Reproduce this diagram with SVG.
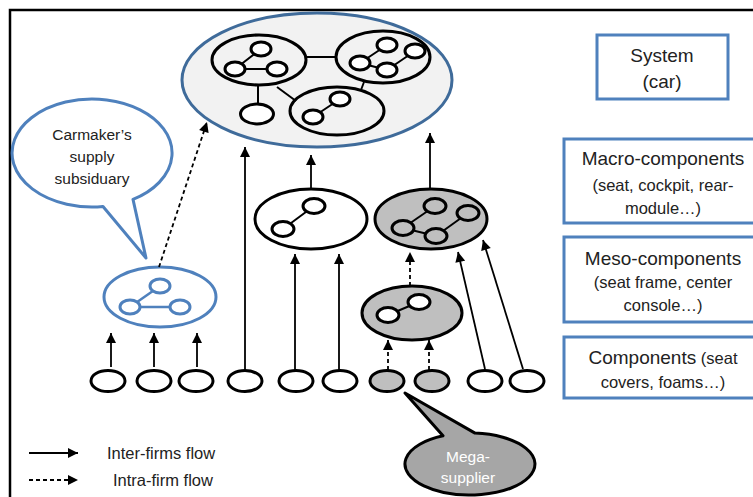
<svg xmlns="http://www.w3.org/2000/svg" width="753" height="497" viewBox="0 0 753 497">
<defs>
<marker id="ah" viewBox="0 0 10 10" refX="10" refY="5" markerWidth="11" markerHeight="10" markerUnits="userSpaceOnUse" orient="auto">
<path d="M0,0 L10,5 L0,10 z" fill="#000"/>
</marker>
</defs>
<style>
.frame{stroke:#000;stroke-width:2.5;fill:none}
.big{fill:#f2f2f2;stroke:#3f6b9a;stroke-width:3}
.sub{fill:none;stroke:#000;stroke-width:3}
.subw{fill:#fff;stroke:#000;stroke-width:3}
.subg{fill:#bfbfbf;stroke:#000;stroke-width:3}
.n{fill:#fff;stroke:#000;stroke-width:3}
.ng{fill:#bfbfbf;stroke:#000;stroke-width:3}
.l{stroke:#000;stroke-width:2;fill:none}
.bl{stroke:#4f81bd;stroke-width:3;fill:#fff}
.bll{stroke:#4f81bd;stroke-width:2.5;fill:none}
.box{fill:#fff;stroke:#4f81bd;stroke-width:3}
.a{stroke:#000;stroke-width:1.8;fill:none;marker-end:url(#ah)}
.d{stroke:#000;stroke-width:1.8;fill:none;stroke-dasharray:4,3;marker-end:url(#ah)}
text{font-family:"Liberation Sans",Arial,sans-serif;fill:#222;text-anchor:middle}
.h{font-size:19px}
.s{font-size:16.5px}
.c{font-size:15.5px}
.w{fill:#fff;font-size:15.5px}
.lg{font-size:16.5px;text-anchor:start}
</style>
<rect width="753" height="497" fill="#fff"/>
<path class="frame" d="M10,497 V10 H753"/>

<g id="system-node">
<ellipse class="big" cx="317" cy="80" rx="135" ry="67"/>
<line class="l" x1="306" y1="57" x2="336" y2="57"/>
<line class="l" x1="258" y1="85" x2="258" y2="104"/>
<line class="l" x1="277" y1="87" x2="296" y2="101"/>
<line class="l" x1="364" y1="82" x2="361" y2="90"/>
<ellipse class="sub" cx="259" cy="60" rx="47" ry="25"/>
<line class="l" x1="261" y1="49" x2="235" y2="69"/>
<line class="l" x1="235" y1="69" x2="277" y2="69"/>
<ellipse class="n" cx="261" cy="49" rx="10" ry="7"/>
<ellipse class="n" cx="235" cy="69" rx="10" ry="7"/>
<ellipse class="n" cx="277" cy="69" rx="10" ry="7"/>
<ellipse class="sub" cx="383" cy="57" rx="47" ry="26"/>
<line class="l" x1="387" y1="45" x2="360" y2="63"/>
<line class="l" x1="360" y1="63" x2="387" y2="70"/>
<line class="l" x1="387" y1="70" x2="415" y2="51"/>
<ellipse class="n" cx="387" cy="45" rx="10" ry="7"/>
<ellipse class="n" cx="415" cy="51" rx="10" ry="7"/>
<ellipse class="n" cx="360" cy="63" rx="10" ry="7"/>
<ellipse class="n" cx="387" cy="70" rx="10" ry="7"/>
<ellipse class="sub" cx="337" cy="111" rx="47" ry="24"/>
<line class="l" x1="340" y1="99" x2="313" y2="117"/>
<ellipse class="n" cx="340" cy="99" rx="10" ry="7"/>
<ellipse class="n" cx="313" cy="117" rx="10" ry="7"/>
<ellipse class="n" cx="257" cy="114" rx="16.5" ry="10"/>
</g>

<g id="carmaker-callout">
<path class="bl" d="M103,206.5 A80,54 0 1 1 133,199.4 L146,258 Z" stroke-linejoin="round"/>
<text class="c" x="92" y="140">Carmaker’s</text>
<text class="c" x="92" y="162">supply</text>
<text class="c" x="92" y="184">subsiduary</text>
</g>

<g id="subsidiary-node">
<ellipse class="bl" cx="160" cy="297" rx="56" ry="30"/>
<line class="bll" x1="160" y1="286" x2="130" y2="307"/>
<line class="bll" x1="130" y1="307" x2="180" y2="307"/>
<ellipse class="bl" cx="160" cy="286" rx="10" ry="7"/>
<ellipse class="bl" cx="130" cy="307" rx="10" ry="7"/>
<ellipse class="bl" cx="180" cy="307" rx="10" ry="7"/>
</g>

<g id="macro-white">
<ellipse class="subw" cx="311" cy="219" rx="56" ry="30"/>
<line class="l" x1="314" y1="206" x2="283" y2="229"/>
<ellipse class="n" cx="314" cy="206" rx="11" ry="7.5"/>
<ellipse class="n" cx="283" cy="229" rx="11" ry="7.5"/>
</g>

<g id="macro-grey">
<ellipse class="subg" cx="431" cy="219" rx="56" ry="30"/>
<line class="l" x1="435" y1="206" x2="403" y2="228"/>
<line class="l" x1="403" y1="228" x2="436" y2="236"/>
<line class="l" x1="436" y1="236" x2="468" y2="213"/>
<ellipse class="ng" cx="435" cy="206" rx="11" ry="7.5"/>
<ellipse class="ng" cx="468" cy="213" rx="11" ry="7.5"/>
<ellipse class="ng" cx="403" cy="228" rx="11" ry="7.5"/>
<ellipse class="ng" cx="436" cy="236" rx="11" ry="7.5"/>
</g>

<g id="meso-grey">
<ellipse class="subg" cx="412" cy="313" rx="50" ry="27"/>
<line class="l" x1="419" y1="302" x2="388" y2="315"/>
<ellipse class="n" cx="419" cy="302" rx="11" ry="7.5"/>
<ellipse class="n" cx="388" cy="315" rx="11" ry="7.5"/>
</g>

<g id="components">
<ellipse class="n" cx="108" cy="381" rx="17" ry="10.5"/>
<ellipse class="n" cx="154" cy="381" rx="17" ry="10.5"/>
<ellipse class="n" cx="196" cy="381" rx="17" ry="10.5"/>
<ellipse class="n" cx="245" cy="381" rx="17" ry="10.5"/>
<ellipse class="n" cx="296" cy="381" rx="17" ry="10.5"/>
<ellipse class="n" cx="340" cy="381" rx="17" ry="10.5"/>
<ellipse class="ng" cx="387" cy="381" rx="17" ry="10.5"/>
<ellipse class="ng" cx="432" cy="381" rx="17" ry="10.5"/>
<ellipse class="n" cx="485" cy="381" rx="17" ry="10.5"/>
<ellipse class="n" cx="527" cy="381" rx="17" ry="10.5"/>
</g>

<g id="mega-supplier-callout">
<path d="M443,435.8 A65,31 0 1 0 475,433.1 L405,393 Z" fill="#a6a6a6" stroke="#000" stroke-width="3" stroke-linejoin="round"/>
<text class="w" x="468" y="462">Mega-</text>
<text class="w" x="468" y="483">supplier</text>
</g>

<g id="connectors">
<line class="d" x1="159" y1="267" x2="207" y2="122"/>
<line class="a" x1="111" y1="367" x2="111" y2="333"/>
<line class="a" x1="154" y1="367" x2="154" y2="333"/>
<line class="a" x1="197" y1="367" x2="197" y2="333"/>
<line class="a" x1="245" y1="370" x2="245" y2="147"/>
<line class="a" x1="295" y1="370" x2="295" y2="254"/>
<line class="a" x1="339" y1="370" x2="339" y2="254"/>
<line class="a" x1="311" y1="189" x2="311" y2="155"/>
<line class="a" x1="430" y1="189" x2="430" y2="133"/>
<line class="d" x1="410" y1="286" x2="410" y2="252"/>
<line class="d" x1="388" y1="370" x2="388" y2="340"/>
<line class="d" x1="429" y1="370" x2="429" y2="340"/>
<line class="a" x1="485" y1="369" x2="458" y2="252"/>
<line class="a" x1="523" y1="369" x2="483" y2="240"/>
</g>

<g id="level-system">
<rect class="box" x="597" y="35" width="131" height="64"/>
<text class="h" x="662" y="62">System</text>
<text class="h" x="662" y="88">(car)</text>
</g>
<g id="level-macro">
<rect class="box" x="564" y="139" width="200" height="84"/>
<text class="h" x="663" y="165">Macro-components</text>
<text class="s" x="663" y="191">(seat, cockpit, rear-</text>
<text class="s" x="663" y="214">module…)</text>
</g>
<g id="level-meso">
<rect class="box" x="564" y="237" width="200" height="85"/>
<text class="h" x="663" y="265">Meso-components</text>
<text class="s" x="663" y="288">(seat frame, center</text>
<text class="s" x="663" y="311">console…)</text>
</g>
<g id="level-components">
<rect class="box" x="564" y="337" width="200" height="61"/>
<text x="663" y="364"><tspan font-size="19px">Components</tspan><tspan font-size="16.5px"> (seat</tspan></text>
<text class="s" x="663" y="388">covers, foams…)</text>
</g>

<g id="legend">
<line class="a" x1="29" y1="453" x2="78" y2="453"/>
<line class="d" x1="29" y1="480" x2="78" y2="480"/>
<text class="lg" x="107" y="459">Inter-firms flow</text>
<text class="lg" x="113" y="486">Intra-firm flow</text>
</g>
</svg>
